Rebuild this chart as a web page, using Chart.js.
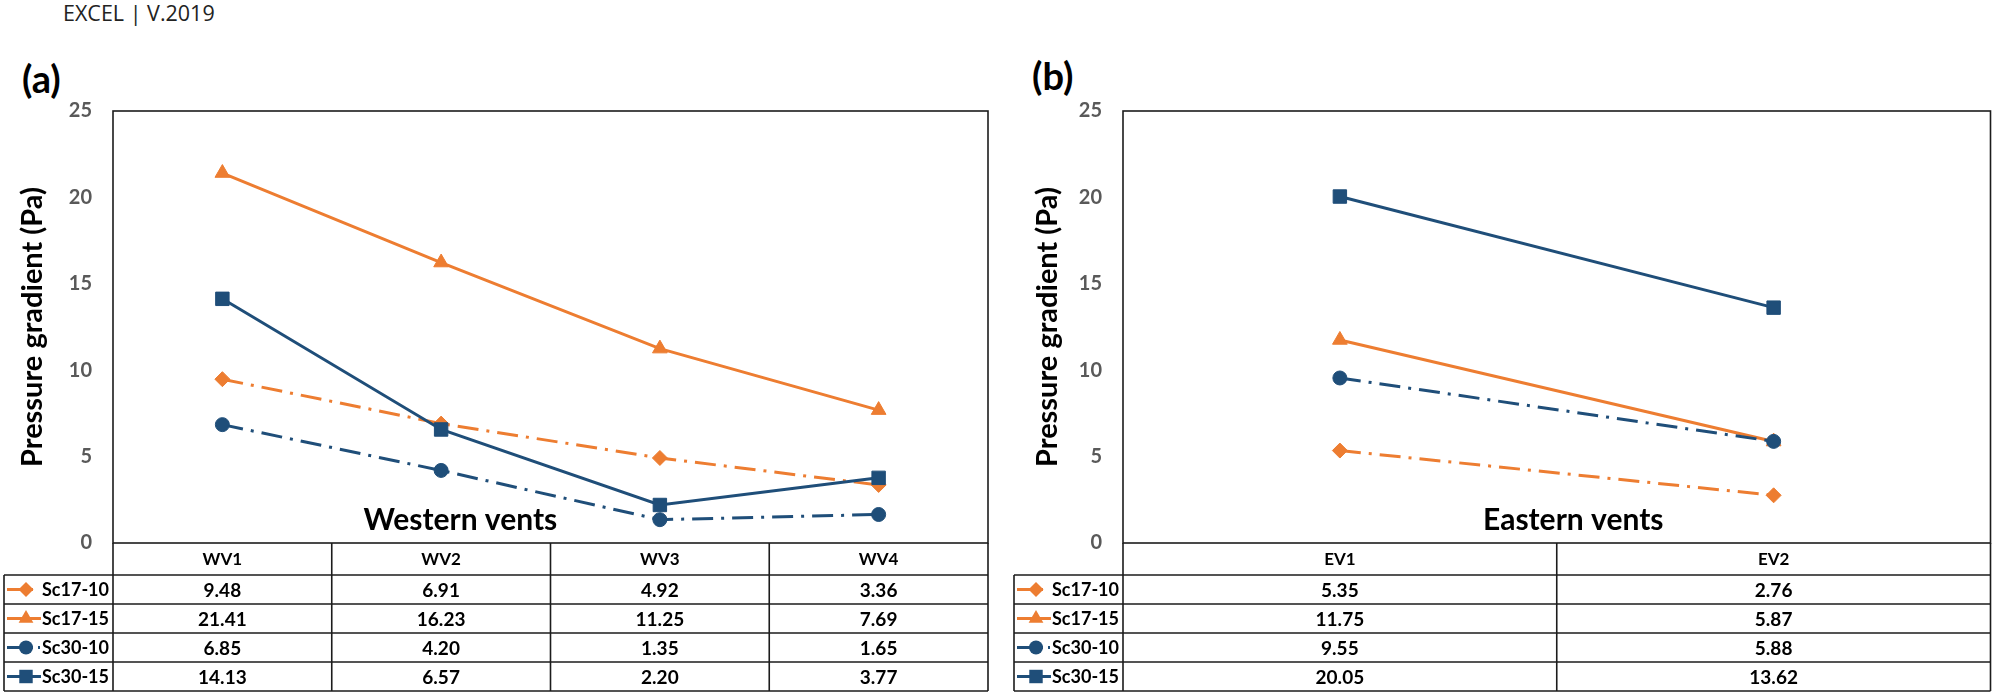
<!DOCTYPE html>
<html><head><meta charset="utf-8">
<script src="https://cdn.jsdelivr.net/npm/chart.js@4.4.1/dist/chart.umd.min.js"></script>
<style>
html,body{margin:0;padding:0;background:#fff;}
#page{position:relative;width:2001px;height:696px;overflow:hidden;background:#fff;}
.wrap{position:absolute;top:0;height:696px;}
.lbl{position:absolute;font-family:Lato;font-weight:bold;color:#000;line-height:1;}
</style></head><body>
<div id="page">
 <div style="position:absolute;left:63px;top:0px;font-family:'Open Sans';font-size:21.5px;color:#222;line-height:1.2;">EXCEL | V.2019</div>
 <div class="lbl" style="left:22px;top:59px;font-size:38px;">(a)</div>
 <div class="lbl" style="left:1032px;top:56px;font-size:38px;">(b)</div>
 <div class="wrap" style="left:0;width:1000px;"><canvas id="ca"></canvas></div>
 <div class="wrap" style="left:1000px;width:1001px;"><canvas id="cb"></canvas></div>
</div>
<script>
// ---------- data ----------
const seriesNames = ['Sc17-10', 'Sc17-15', 'Sc30-10', 'Sc30-15'];
const westernVents = ['WV1', 'WV2', 'WV3', 'WV4'];
const easternVents = ['EV1', 'EV2'];
const westSc1710 = [9.48, 6.91, 4.92, 3.36];
const westSc1715 = [21.41, 16.23, 11.25, 7.69];
const westSc3010 = [6.85, 4.20, 1.35, 1.65];
const westSc3015 = [14.13, 6.57, 2.20, 3.77];
const eastSc1710 = [5.35, 2.76];
const eastSc1715 = [11.75, 5.87];
const eastSc3010 = [9.55, 5.88];
const eastSc3015 = [20.05, 13.62];
const yTickValues = [0, 5, 10, 15, 20, 25];
const yAxisTitle = 'Pressure gradient (Pa)';
const westCaption = 'Western vents';
const eastCaption = 'Eastern vents';

// ---------- styles ----------
const ORANGE = '#ED7D31';
const BLUE = '#1F4E79';
const DASHDOT = [21, 8, 3, 8];
const styles = [
  {color: ORANGE, dash: DASHDOT, point: 'rectRot', r: 7.5},
  {color: ORANGE, dash: [], point: 'triangle', r: 8.5},
  {color: BLUE, dash: DASHDOT, point: 'circle', r: 7},
  {color: BLUE, dash: [], point: 'rect', r: 9.5}
];

function makeDatasets(series) {
  return series.map((vals, i) => ({
    label: seriesNames[i],
    data: vals,
    borderColor: styles[i].color,
    backgroundColor: styles[i].color,
    borderWidth: 3,
    borderDash: styles[i].dash,
    pointStyle: styles[i].point,
    pointRadius: styles[i].r,
    pointHoverRadius: styles[i].r,
    pointBorderWidth: 1,
    pointBorderColor: styles[i].color,
    pointBackgroundColor: styles[i].color,
    tension: 0,
    fill: false,
    order: 4 - i
  }));
}

function drawMarker(ctx, style, x, y, r, color) {
  ctx.save();
  ctx.fillStyle = color;
  ctx.beginPath();
  if (style === 'circle') {
    ctx.arc(x, y, r, 0, Math.PI * 2);
  } else if (style === 'rect') {
    const s = Math.SQRT1_2 * r;
    ctx.rect(x - s, y - s, 2 * s, 2 * s);
  } else if (style === 'rectRot') {
    ctx.moveTo(x - r, y); ctx.lineTo(x, y - r); ctx.lineTo(x + r, y); ctx.lineTo(x, y + r); ctx.closePath();
  } else if (style === 'triangle') {
    for (let k = 0; k < 3; k++) {
      const ang = -Math.PI / 2 + k * 2 * Math.PI / 3;
      const px = x + Math.cos(ang) * r, py = y + Math.sin(ang) * r;
      if (k === 0) ctx.moveTo(px, py); else ctx.lineTo(px, py);
    }
    ctx.closePath();
  }
  ctx.fill();
  ctx.restore();
}

function tablePlugin(cfg) {
  return {
    id: 'dataTable',
    afterDraw(chart) {
      const ctx = chart.ctx, a = chart.chartArea, x = chart.scales.x;
      const n = cfg.cats.length;
      const colW = (a.right - a.left) / n;
      const headH = 32, rowH = 29;
      const yHead = a.bottom, y0 = a.bottom + headH, yEnd = y0 + rowH * cfg.series.length;
      ctx.save();
      // caption (horizontal axis title placed inside the plot)
      ctx.fillStyle = '#000';
      ctx.textAlign = 'center';
      ctx.textBaseline = 'middle';
      ctx.font = 'bold 30px Lato';
      ctx.fillText(cfg.caption, a.left + cfg.captionFrac * (a.right - a.left), a.bottom - 23);
      // frame + grid
      ctx.strokeStyle = '#1c1c1c';
      ctx.lineWidth = 1.6;
      ctx.strokeRect(a.left, a.top, a.right - a.left, a.bottom - a.top);
      ctx.beginPath();
      for (let i = 0; i <= n; i++) {
        const xx = a.left + i * colW;
        ctx.moveTo(xx, yHead); ctx.lineTo(xx, yEnd);
      }
      ctx.moveTo(cfg.legendLeft, y0); ctx.lineTo(cfg.legendLeft, yEnd);
      for (let r = 0; r <= cfg.series.length; r++) {
        const yy = y0 + r * rowH;
        ctx.moveTo(cfg.legendLeft, yy); ctx.lineTo(a.right, yy);
      }
      ctx.stroke();
      // header
      ctx.fillStyle = '#000';
      ctx.font = 'bold 17px Lato';
      cfg.cats.forEach((c, i) => ctx.fillText(c, x.getPixelForValue(i), yHead + headH / 2 + 1));
      // rows
      cfg.series.forEach((vals, r) => {
        const cy = y0 + r * rowH + rowH / 2 + 1;
        ctx.font = 'bold 19px Lato';
        ctx.textAlign = 'center';
        vals.forEach((v, i) => ctx.fillText(v.toFixed(2), x.getPixelForValue(i), cy));
        ctx.font = 'bold 18px Lato';
        ctx.textAlign = 'right';
        ctx.fillText(seriesNames[r], a.left - 4, cy);
        // legend key
        const st = styles[r];
        const kx = cfg.legendLeft;
        ctx.strokeStyle = st.color;
        ctx.lineWidth = 3;
        ctx.beginPath();
        if (st.dash.length) {
          ctx.moveTo(kx + 3, cy - 1); ctx.lineTo(kx + 29, cy - 1);
          if (r === 2) { ctx.moveTo(kx + 34, cy - 1); ctx.lineTo(kx + 36, cy - 1); }
        } else {
          ctx.moveTo(kx + 3, cy - 1); ctx.lineTo(kx + 37, cy - 1);
        }
        ctx.stroke();
        drawMarker(ctx, st.point, kx + 22, cy - 1, st.r, st.color);
      });
      ctx.restore();
    }
  };
}

function makeChart(id, cats, series, opt) {
  return new Chart(document.getElementById(id), {
    type: 'line',
    data: {labels: cats, datasets: makeDatasets(series)},
    options: {
      responsive: true,
      maintainAspectRatio: false,
      animation: false,
      layout: {padding: {top: 111, right: opt.padRight, bottom: 153, left: 0}},
      plugins: {legend: {display: false}, tooltip: {enabled: false}},
      events: [],
      scales: {
        x: {type: 'category', offset: true, display: false},
        y: {
          min: yTickValues[0],
          max: yTickValues[yTickValues.length - 1],
          afterBuildTicks(s) { s.ticks = yTickValues.map(v => ({value: v})); },
          ticks: {font: {family: 'Lato', weight: 'bold', size: 20}, color: '#595959', padding: 21},
          grid: {display: false, drawTicks: false},
          border: {display: false},
          title: {display: true, text: yAxisTitle, color: '#000',
                  font: {family: 'Lato', weight: 'bold', size: 29}, padding: {top: opt.titlePad, bottom: 0}},
          afterFit(s) { s.width = opt.axisWidth; }
        }
      }
    },
    plugins: [tablePlugin({cats, series, legendLeft: opt.legendLeft, caption: opt.caption, captionFrac: opt.captionFrac})]
  });
}

makeChart('ca', westernVents, [westSc1710, westSc1715, westSc3010, westSc3015],
  {padRight: 12, axisWidth: 113, titlePad: 15, legendLeft: 4, caption: westCaption, captionFrac: 0.397});
makeChart('cb', easternVents, [eastSc1710, eastSc1715, eastSc3010, eastSc3015],
  {padRight: 4, axisWidth: 123, titlePad: 30, legendLeft: 14, caption: eastCaption, captionFrac: 0.519});
</script>
</body></html>
